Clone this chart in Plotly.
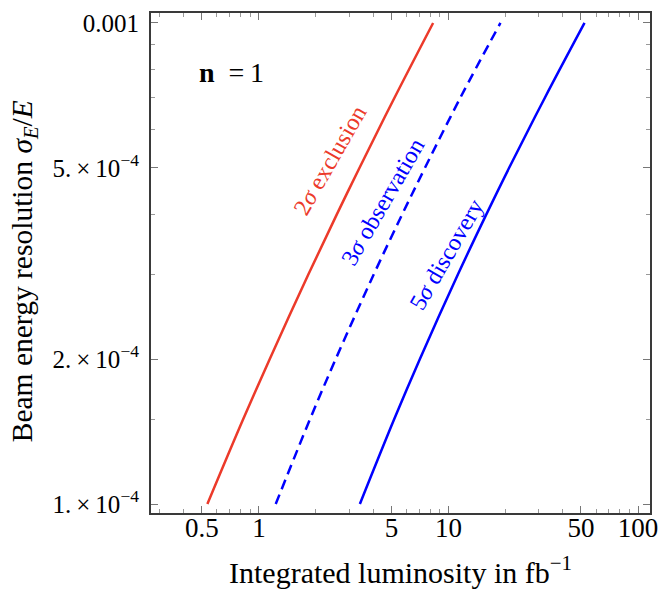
import plotly.graph_objects as go

# Beam energy resolution values (y) at which the curves were read
resolution = [1.0e-4, 1.5e-4, 2.0e-4, 3.0e-4, 4.0e-4, 5.0e-4, 7.0e-4, 1.0e-3]
# Integrated luminosity (fb^-1) needed for each significance level
lumi_2sigma_exclusion = [0.535, 0.826, 1.140, 1.823, 2.577, 3.396, 5.20, 8.30]
lumi_3sigma_observation = [1.227, 1.859, 2.540, 4.033, 5.70, 7.52, 11.57, 18.8]
lumi_5sigma_discovery = [3.41, 5.17, 7.06, 11.21, 15.84, 20.9, 32.3, 52.2]

x_tickvals = [0.5, 1, 5, 10, 50, 100]
x_ticktext = ["0.5", "1", "5", "10", "50", "100"]
x_minorvals = [0.3, 0.4, 0.6, 0.7, 0.8, 0.9, 2, 3, 4, 6, 7, 8, 9,
               20, 30, 40, 60, 70, 80, 90]
y_tickvals = [1e-4, 2e-4, 5e-4, 1e-3]
y_ticktext = ["1.&#8201;×&#8201;10<sup>−4</sup>", "2.&#8201;×&#8201;10<sup>−4</sup>",
              "5.&#8201;×&#8201;10<sup>−4</sup>", "0.001"]
y_minorvals = [1.5e-4, 3e-4, 4e-4, 6e-4, 7e-4, 8e-4, 9e-4]

RED = "rgb(236,58,42)"
BLUE = "rgb(0,0,255)"
FONT = "Liberation Serif"

fig = go.Figure()
fig.add_trace(go.Scatter(x=lumi_2sigma_exclusion, y=resolution, mode="lines",
                         line=dict(color=RED, width=2.5, shape="spline")))
fig.add_trace(go.Scatter(x=lumi_3sigma_observation, y=resolution, mode="lines",
                         line=dict(color=BLUE, width=2.5, dash="10px,6px", shape="spline")))
fig.add_trace(go.Scatter(x=lumi_5sigma_discovery, y=resolution, mode="lines",
                         line=dict(color=BLUE, width=2.5, shape="spline")))

axis_common = dict(
    showgrid=False, zeroline=False, showline=True, linecolor="#3a3a3a", linewidth=2,
    mirror="allticks", ticks="inside", ticklen=7, tickwidth=1, tickcolor="#777",
)
fig.update_xaxes(type="log", range=[-0.569, 2.063], tickmode="array",
                 tickvals=x_tickvals, ticktext=x_ticktext, ticklabelstandoff=-10,
                 tickfont=dict(family=FONT, size=27, color="black"),
                 minor=dict(tickmode="array", tickvals=x_minorvals, ticks="inside",
                            ticklen=4, tickcolor="#999"),
                 **axis_common)
fig.update_yaxes(type="log", range=[-4.0186, -2.9793], tickmode="array",
                 tickvals=y_tickvals, ticktext=y_ticktext, ticklabelstandoff=5,
                 tickfont=dict(family=FONT, size=25, color="black"),
                 minor=dict(tickmode="array", tickvals=y_minorvals, ticks="inside",
                            ticklen=4, tickcolor="#999"),
                 **axis_common)

annots = [
    dict(x=0.376, y=-3.285, text="2<i>σ</i> exclusion", color=RED),
    dict(x=0.653, y=-3.372, text="3<i>σ</i> observation", color=BLUE),
    dict(x=0.992, y=-3.481, text="5<i>σ</i> discovery", color=BLUE),
]
for a in annots:
    fig.add_annotation(x=a["x"], y=a["y"], xref="x", yref="y", text=a["text"],
                       showarrow=False, textangle=-60, xanchor="center", yanchor="middle",
                       font=dict(family=FONT, size=24, color=a["color"]))

fig.add_annotation(x=0.161, y=0.881, xref="paper", yref="paper", text="<b>n</b>  =&#8201;1",
                   showarrow=False, xanchor="center", yanchor="middle",
                   font=dict(family=FONT, size=28, color="black"))
fig.add_annotation(x=0.5, y=-0.113, xref="paper", yref="paper",
                   text="Integrated luminosity in fb<sup>−1</sup>", showarrow=False,
                   xanchor="center", yanchor="middle",
                   font=dict(family=FONT, size=30, color="black"))
fig.add_annotation(x=-0.255, y=0.483, xref="paper", yref="paper", textangle=-90,
                   text="Beam energy resolution <i>σ<sub>E</sub></i>/<i>E</i>", showarrow=False,
                   xanchor="center", yanchor="middle",
                   font=dict(family=FONT, size=29.5, color="black"))

fig.update_layout(width=668, height=603, showlegend=False,
                  margin=dict(l=151, r=13, t=10, b=90),
                  paper_bgcolor="white", plot_bgcolor="white")
fig.write_html("out.html")
